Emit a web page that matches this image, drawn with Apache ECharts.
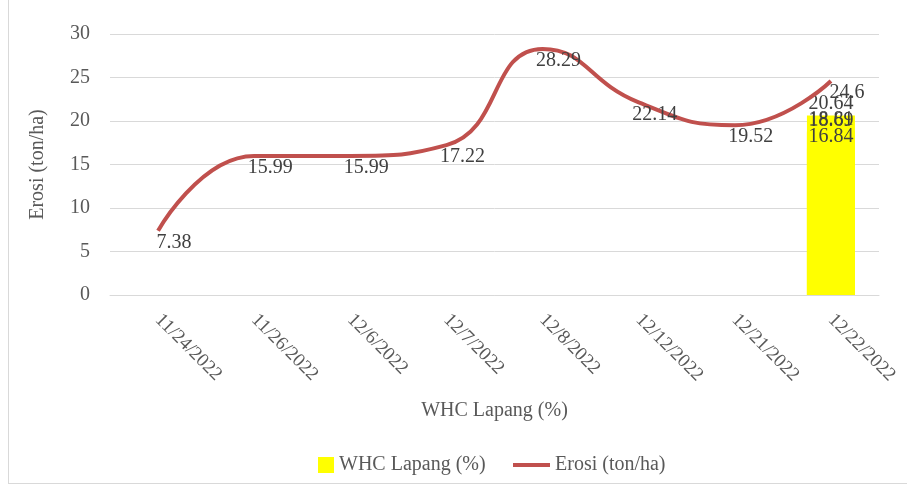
<!DOCTYPE html>
<html>
<head>
<meta charset="utf-8">
<script src="https://cdn.jsdelivr.net/npm/echarts@6/dist/echarts.min.js"></script>
<style>
  html, body { margin: 0; padding: 0; background: #fff; }
  #frame { position: absolute; left: 8px; top: 0; width: 899px; height: 484px; border-left: 1px solid #d9d9d9; border-bottom: 1px solid #d9d9d9; box-sizing: border-box; }
  #chart { width: 909px; height: 490px; }
</style>
</head>
<body>
<div id="frame"></div>
<div id="chart"></div>
<script>
// Sampling dates
const dates = ['11/24/2022', '11/26/2022', '12/6/2022', '12/7/2022', '12/8/2022', '12/12/2022', '12/21/2022', '12/22/2022'];
// Erosion per date (ton/ha)
const erosi = [7.38, 15.99, 15.99, 17.22, 28.29, 22.14, 19.52, 24.6];
// Field water holding capacity readings, all recorded on the last date (%)
const whcLapang = [20.64, 18.81, 18.69, 16.84];
const whcDate = '12/22/2022';
// Y axis ticks
const yMin = 0, yMax = 30, yStep = 5;

const font = "'Liberation Serif', 'DejaVu Serif', serif";
const textColor = '#595959';
const fs = 20;
const lineColor = '#C0504D';

const chart = echarts.init(document.getElementById('chart'), null, { renderer: 'canvas' });

// One overlapping bar per WHC reading, all sharing the same legend entry
const whcSeries = whcLapang.map(v => ({
  name: 'WHC Lapang (%)',
  type: 'bar',
  barWidth: 48,
  barGap: '-100%',
  itemStyle: { color: '#FFFF00' },
  data: dates.map(d => (d === whcDate ? v : '-')),
  label: {
    show: true,
    position: 'top',
    distance: 2,
    color: '#404040',
    fontFamily: font,
    fontSize: fs
  },
  z: 1
}));

const legendText = { color: textColor, fontFamily: font, fontSize: fs };

chart.setOption({
  animation: false,
  textStyle: { fontFamily: font },
  grid: { left: 110, right: 30, top: 34, bottom: 195 },
  legend: [
    {
      left: 313,
      top: 450,
      itemWidth: 16,
      itemHeight: 16,
      textStyle: legendText,
      data: [{ name: 'WHC Lapang (%)', icon: 'rect' }]
    },
    {
      left: 508,
      top: 450,
      itemWidth: 37,
      itemHeight: 16,
      textStyle: legendText,
      data: [{
        name: 'Erosi (ton/ha)',
        icon: 'path://M0,6 L37,6 L37,10 L0,10 Z',
        itemStyle: { color: lineColor, opacity: 1 }
      }]
    }
  ],
  xAxis: {
    type: 'category',
    data: dates,
    name: 'WHC Lapang (%)',
    nameLocation: 'middle',
    nameGap: 106,
    nameTextStyle: { color: textColor, fontFamily: font, fontSize: fs },
    axisLine: { lineStyle: { color: '#d9d9d9' } },
    axisTick: { show: false },
    axisLabel: {
      rotate: -45,
      interval: 0,
      margin: 22,
      color: textColor,
      fontFamily: font,
      fontSize: 19
    }
  },
  yAxis: {
    type: 'value',
    min: yMin,
    max: yMax,
    interval: yStep,
    name: 'Erosi (ton/ha)',
    nameLocation: 'middle',
    nameGap: 62,
    nameRotate: 90,
    nameTextStyle: { color: textColor, fontFamily: font, fontSize: fs },
    axisLine: { show: false },
    axisTick: { show: false },
    axisLabel: { color: textColor, fontFamily: font, fontSize: fs, margin: 20 },
    splitLine: { lineStyle: { color: '#d9d9d9', width: 1 } }
  },
  series: [
    ...whcSeries,
    {
      name: 'Erosi (ton/ha)',
      type: 'line',
      data: erosi,
      smooth: 0.5,
      symbol: 'circle',
      symbolSize: 2,
      showSymbol: true,
      lineStyle: { color: lineColor, width: 4 },
      itemStyle: { color: 'rgba(0,0,0,0)' },
      label: {
        show: true,
        position: 'bottom',
        distance: 2,
        offset: [16, -1],
        color: '#404040',
        fontFamily: font,
        fontSize: fs
      },
      z: 3
    }
  ]
});
</script>
</body>
</html>
